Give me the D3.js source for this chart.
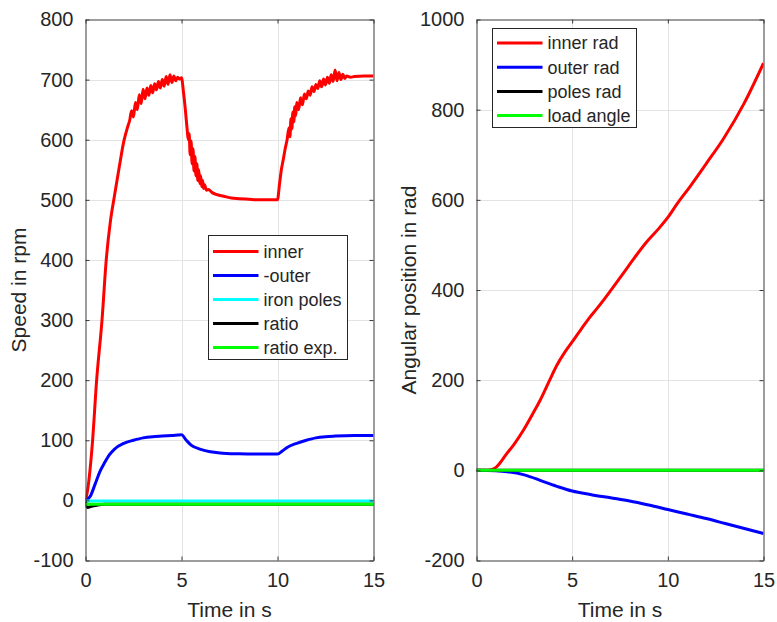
<!DOCTYPE html>
<html>
<head>
<meta charset="utf-8">
<script src="https://cdn.jsdelivr.net/npm/d3@7"></script>
<style>
  body { margin: 0; background: #fff; }
  svg text { font-family: Arial, Helvetica, "Liberation Sans", sans-serif; fill: #262626; }
</style>
</head>
<body>
<div id="chart"></div>
<script>
// ---- data: [time in s, value] ----
const innerSpeed = [[0,0],[0.1,15],[0.2,40],[0.37,100],[0.58,200],[0.86,300],[1.08,400],[1.3,465],[1.5,505],[1.76,555],[2.0,598],[2.2,622],
  [2.3,632],[2.4,648],[2.5,638],[2.6,662],[2.7,650],[2.8,675],[2.9,660],[3.0,684],[3.1,668],[3.2,686],[3.3,674],[3.4,690],[3.5,678],[3.6,693],
  [3.7,683],[3.8,697],[3.9,686],[4.0,700],[4.1,689],[4.2,705],[4.3,692],[4.4,708],[4.5,695],[4.6,706],[4.7,698],[4.8,704],[4.9,701],[5.0,703],
  [5.1,680],[5.2,650],[5.3,615],[5.35,600],[5.4,610],[5.45,575],[5.5,598],[5.55,560],[5.6,585],[5.65,548],[5.7,572],[5.75,540],[5.8,560],
  [5.85,532],[5.9,550],[5.95,527],[6.0,540],[6.05,522],[6.1,532],[6.15,519],[6.2,525],[6.3,516],[6.4,517],[6.6,512],[6.8,509],[7.2,506],
  [7.6,503],[8.0,502],[8.5,501],[9.0,500],[10.0,500],
  [10.1,525],[10.2,550],[10.3,567],[10.4,585],[10.5,600],[10.6,620],[10.65,605],[10.7,635],[10.75,618],[10.8,646],[10.85,630],[10.9,655],
  [10.95,640],[11.0,662],[11.1,650],[11.2,670],[11.3,658],[11.4,676],[11.5,668],[11.6,681],[11.7,674],[11.8,688],[11.9,680],[12.0,692],
  [12.1,685],[12.2,698],[12.3,688],[12.4,701],[12.5,691],[12.6,704],[12.7,694],[12.8,708],[12.9,697],[13.0,716],[13.1,698],[13.2,712],
  [13.3,700],[13.4,709],[13.5,702],[13.6,706],[13.8,704],[14.0,705],[14.5,706],[15.0,706]];
const outerSpeed = [[0,0],[0.25,7],[0.5,27],[0.75,48],[1.0,63],[1.25,76],[1.5,85],[2.0,95],[2.5,100],[3.0,104],[3.5,106],[4.0,107],[4.5,108],
  [5.0,109],[5.25,100],[5.5,92],[6.0,85],[6.5,81],[7.0,79],[8.0,77.5],[9.0,77],[10.0,77],[10.25,82],[10.5,88],[11.0,95],[11.5,100],
  [12.0,104],[12.5,106],[13.0,107],[14.0,108],[15.0,108]];
const polesSpeed = [[0,-1],[15,-1]];
const ratioSpeed = [[0,-2],[0.1,-12],[0.3,-10],[0.6,-8],[1.0,-6.5],[15,-6.5]];
const ratioExpSpeed = [[0,-6.5],[15,-6.5]];

const innerRad = [[0,0],[0.5,0],[0.72,1],[1.0,6],[1.58,37],[2.0,60],[2.45,89],[3.0,130],[3.32,155],[3.8,198],[4.2,233],[4.6,261],[5.0,285],
  [5.5,315],[5.93,340],[6.28,358],[6.63,377],[7.0,398],[7.67,437],[8.3,474],[8.9,507],[9.5,535],[10.02,562],[10.5,592],[11.15,629],
  [12.0,680],[12.9,735],[14.0,815],[15.0,903]];
const outerRad = [[0,0],[1.0,-1],[1.6,-3],[2.5,-10],[3.5,-25],[4.3,-37],[5.0,-46],[6.0,-54],[7.0,-61],[8.0,-68],[9.0,-77],[10.0,-87],
  [11.0,-97],[12.0,-107],[13.0,-118],[14.0,-129],[15.0,-140]];
const polesRad = [[0,0],[15,0]];
const loadAngle = [[0,0],[15,0]];

const timeTicks = [0, 5, 10, 15];
const speedTicks = [-100, 0, 100, 200, 300, 400, 500, 600, 700, 800];
const angleTicks = [-200, 0, 200, 400, 600, 800, 1000];
const speedNames = ["inner", "-outer", "iron poles", "ratio", "ratio exp."];
const angleNames = ["inner rad", "outer rad", "poles rad", "load angle"];
const speedColors = ["#ff0000", "#0000ff", "#00ffff", "#000000", "#00ff00"];
const angleColors = ["#ff0000", "#0000ff", "#000000", "#00ff00"];

const svg = d3.select("#chart").append("svg")
  .attr("width", 777)
  .attr("height", 622);

class LinePanel {
  constructor(_config) {
    this.config = _config;
    this.initVis();
  }

  initVis() {
    let vis = this;
    const c = vis.config;

    vis.xScale = d3.scaleLinear().domain([0, 15]).range([c.left, c.right]);
    vis.yScale = d3.scaleLinear().domain(c.yDomain).range([c.bottom, c.top]);

    vis.g = svg.append("g");

    // grid
    vis.g.append("g").selectAll("line.gx")
      .data(timeTicks.slice(1, -1))
      .join("line")
      .attr("x1", d => Math.round(vis.xScale(d)) + 0.5).attr("x2", d => Math.round(vis.xScale(d)) + 0.5)
      .attr("y1", c.top).attr("y2", c.bottom)
      .attr("stroke", "#e3e3e3");
    vis.g.append("g").selectAll("line.gy")
      .data(c.yTicks.slice(1, -1))
      .join("line")
      .attr("y1", d => Math.round(vis.yScale(d)) + 0.5).attr("y2", d => Math.round(vis.yScale(d)) + 0.5)
      .attr("x1", c.left).attr("x2", c.right)
      .attr("stroke", "#e3e3e3");

    // lines
    const clipId = "clip" + c.id;
    svg.append("clipPath").attr("id", clipId)
      .append("rect")
      .attr("x", c.left).attr("y", c.top)
      .attr("width", c.right - c.left).attr("height", c.bottom - c.top);

    const line = d3.line()
      .curve(d3.curveMonotoneX)
      .x(d => vis.xScale(d[0]))
      .y(d => vis.yScale(d[1]));

    vis.g.append("g")
      .attr("clip-path", `url(#${clipId})`)
      .selectAll("path")
      .data(c.series)
      .join("path")
      .attr("d", d => line(d))
      .attr("fill", "none")
      .attr("stroke", (d, i) => c.colors[i])
      .attr("stroke-width", 3)
      .attr("stroke-linejoin", "round");

    // axes (box with inward ticks on all four sides)
    const fmt = d => String(d);
    const xAxisB = d3.axisBottom(vis.xScale).tickValues(timeTicks).tickFormat(fmt).tickSizeInner(-4).tickSizeOuter(0).tickPadding(12);
    const xAxisT = d3.axisTop(vis.xScale).tickValues(timeTicks).tickSizeInner(-4).tickSizeOuter(0).tickFormat("");
    const yAxisL = d3.axisLeft(vis.yScale).tickValues(c.yTicks).tickFormat(fmt).tickSizeInner(-4).tickSizeOuter(0).tickPadding(12);
    const yAxisR = d3.axisRight(vis.yScale).tickValues(c.yTicks).tickSizeInner(-4).tickSizeOuter(0).tickFormat("");

    const axes = [
      [xAxisB, `translate(0,${c.bottom})`],
      [xAxisT, `translate(0,${c.top})`],
      [yAxisL, `translate(${c.left},0)`],
      [yAxisR, `translate(${c.right},0)`]
    ];
    axes.forEach(([ax, tr]) => {
      const a = vis.g.append("g").attr("transform", tr).call(ax);
      a.selectAll("path, line").attr("stroke", "#3a3a3a");
      a.selectAll("text").attr("font-size", 20).attr("fill", "#262626").style("font-family", null);
    });

    // axis labels
    vis.g.append("text")
      .attr("x", (c.left + c.right) / 2)
      .attr("y", 617)
      .attr("text-anchor", "middle")
      .attr("font-size", 21)
      .text("Time in s");
    vis.g.append("text")
      .attr("transform", `translate(${c.yLabelX},${(c.top + c.bottom) / 2}) rotate(-90)`)
      .attr("text-anchor", "middle")
      .attr("font-size", 21)
      .text(c.yLabel);

    // legend
    const lg = vis.g.append("g").attr("transform", `translate(${c.legend.x},${c.legend.y})`);
    lg.append("rect")
      .attr("width", c.legend.w).attr("height", c.legend.h)
      .attr("fill", "#fff").attr("stroke", "#262626").attr("stroke-width", 1);
    const item = lg.selectAll("g.item")
      .data(c.names)
      .join("g")
      .attr("transform", (d, i) => `translate(0,${c.legend.first + i * c.legend.step})`);
    item.append("line")
      .attr("x1", 4.5).attr("x2", 50)
      .attr("stroke", (d, i) => c.colors[i])
      .attr("stroke-width", 3);
    item.append("text")
      .attr("x", 55)
      .attr("dy", "0.35em")
      .attr("font-size", 18)
      .text(d => d);
  }
}

new LinePanel({
  id: 1,
  left: 85.5, right: 373.5, top: 19.5, bottom: 560.5,
  yDomain: [-100, 800], yTicks: speedTicks,
  yLabel: "Speed in rpm", yLabelX: 26,
  series: [innerSpeed, outerSpeed, polesSpeed, ratioSpeed, ratioExpSpeed],
  colors: speedColors, names: speedNames,
  legend: { x: 208.5, y: 235.5, w: 139, h: 124, first: 16, step: 24 }
});

new LinePanel({
  id: 2,
  left: 476.5, right: 763.5, top: 19.5, bottom: 560.5,
  yDomain: [-200, 1000], yTicks: angleTicks,
  yLabel: "Angular position in rad", yLabelX: 416,
  series: [innerRad, outerRad, polesRad, loadAngle],
  colors: angleColors, names: angleNames,
  legend: { x: 492.5, y: 28.5, w: 144, h: 99, first: 14.5, step: 24.2 }
});
</script>
</body>
</html>
